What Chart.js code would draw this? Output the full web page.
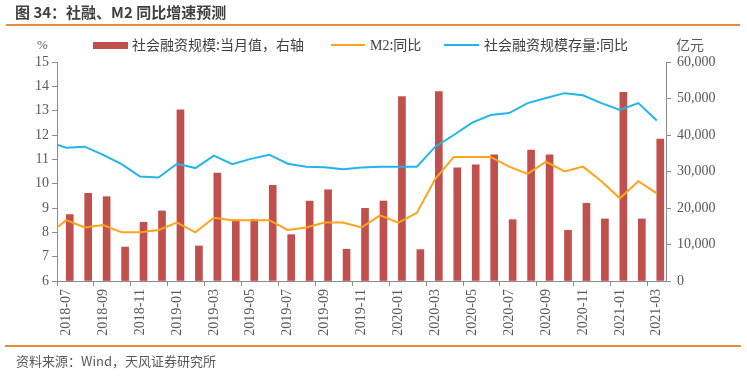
<!DOCTYPE html>
<html>
<head>
<meta charset="utf-8">
<script src="https://cdn.jsdelivr.net/npm/chart.js@4/dist/chart.umd.min.js"></script>
<style>
  html, body { margin: 0; padding: 0; background: #fff; }
  #wrap { position: relative; width: 747px; height: 377px; overflow: hidden; }
  #wrap canvas { position: absolute; left: 0; top: 0; }
  .txt { position: absolute; white-space: nowrap; font-family: "Noto Sans CJK SC", sans-serif; color: #595959; line-height: 1; }
  .rule { position: absolute; height: 2px; background: #EA8A3C; }
  .sw { position: absolute; }
</style>
</head>
<body>
<div id="wrap">
  <canvas id="chart"></canvas>
  <div class="txt" style="left:15px;top:4px;font-size:15px;font-weight:bold;color:#3f3f3f;">图 34：社融、M2 同比增速预测</div>
  <div class="rule" style="left:6px;top:24px;width:734px;"></div>
  <div class="txt" style="left:37px;top:38px;font-size:13px;font-family:'Liberation Serif',serif;">%</div>
  <div class="sw" style="left:93px;top:42px;width:35px;height:7px;background:#C0504D;"></div>
  <div class="txt" style="left:132px;top:37px;font-size:14px;color:#404040;">社会融资规模:当月值，右轴</div>
  <div class="sw" style="left:331px;top:44px;width:34px;height:2px;background:#FFA31A;"></div>
  <div class="txt" style="left:370px;top:37px;font-size:14px;color:#404040;"><span style="font-family:'Liberation Serif',serif;">M2</span>:同比</div>
  <div class="sw" style="left:444px;top:44px;width:35px;height:2px;background:#21B5EC;"></div>
  <div class="txt" style="left:484px;top:37px;font-size:14px;color:#404040;">社会融资规模存量:同比</div>
  <div class="txt" style="left:676px;top:37px;font-size:14px;">亿元</div>
  <div class="rule" style="left:5px;top:345px;width:736px;"></div>
  <div class="txt" style="left:16px;top:354px;font-size:13px;">资料来源：Wind，天风证券研究所</div>
</div>
<script>
const months = [
  "2018-07", "2018-08", "2018-09", "2018-10", "2018-11", "2018-12",
  "2019-01", "2019-02", "2019-03", "2019-04", "2019-05", "2019-06",
  "2019-07", "2019-08", "2019-09", "2019-10", "2019-11", "2019-12",
  "2020-01", "2020-02", "2020-03", "2020-04", "2020-05", "2020-06",
  "2020-07", "2020-08", "2020-09", "2020-10", "2020-11", "2020-12",
  "2021-01", "2021-02", "2021-03"
];

// 社会融资规模:当月值 (亿元, right axis)
const tsfMonthly = [
  18200, 24000, 23100, 9300, 16100, 19200,
  46900, 9600, 29600, 16700, 16900, 26200,
  12700, 21900, 25000, 8700, 19900, 21900,
  50500, 8600, 51900, 31000, 31800, 34600,
  16800, 35900, 34600, 13900, 21300, 17000,
  51700, 17000, 38900
];

// M2:同比 (%)
const m2Growth = [
  8.5, 8.2, 8.3, 8.0, 8.0, 8.1,
  8.4, 8.0, 8.6, 8.5, 8.5, 8.5,
  8.1, 8.2, 8.4, 8.4, 8.2, 8.7,
  8.4, 8.8, 10.2, 11.1, 11.1, 11.1,
  10.7, 10.4, 10.9, 10.5, 10.7, 10.1,
  9.4, 10.1, 9.6
];

// 社会融资规模存量:同比 (%)
const stockGrowth = [
  11.48, 11.52, 11.18, 10.80, 10.29, 10.25,
  10.82, 10.64, 11.15, 10.80, 11.02, 11.19,
  10.82, 10.70, 10.67, 10.59, 10.66, 10.70,
  10.70, 10.70, 11.52, 12.00, 12.51, 12.82,
  12.90, 13.31, 13.52, 13.72, 13.63, 13.31,
  13.03, 13.31, 12.60
];

// both lines begin at the left edge of the plot, half a month before 2018-07
const m2Lead = 8.2;
const stockLead = 11.6;

const leftTicks = [6, 7, 8, 9, 10, 11, 12, 13, 14, 15];
const rightTicks = [0, 10000, 20000, 30000, 40000, 50000, 60000];

function toPoints(lead, values) {
  return [{ x: -0.5, y: lead }].concat(values.map((v, i) => ({ x: i, y: v })));
}

const axisGray = "#8c8c8c";
const tickFont = { family: "'Liberation Serif', serif", size: 14 };

new Chart(document.getElementById("chart"), {
  data: {
    labels: months,
    datasets: [
      {
        type: "line",
        label: "M2:同比",
        data: toPoints(m2Lead, m2Growth),
        xAxisID: "xl",
        yAxisID: "y",
        borderColor: "#FFA31A",
        borderWidth: 2,
        pointRadius: 0,
        tension: 0,
        order: 0
      },
      {
        type: "line",
        label: "社会融资规模存量:同比",
        data: toPoints(stockLead, stockGrowth),
        xAxisID: "xl",
        yAxisID: "y",
        borderColor: "#21B5EC",
        borderWidth: 2,
        pointRadius: 0,
        tension: 0,
        order: 0
      },
      {
        type: "bar",
        label: "社会融资规模:当月值，右轴",
        data: tsfMonthly,
        xAxisID: "x",
        yAxisID: "y1",
        backgroundColor: "#C0504D",
        barThickness: 7,
        order: 2
      }
    ]
  },
  options: {
    responsive: true,
    maintainAspectRatio: false,
    animation: false,
    layout: { padding: { top: 62, left: 0, right: 0, bottom: 0 } },
    plugins: {
      legend: { display: false },
      tooltip: { enabled: false }
    },
    scales: {
      x: {
        type: "category",
        offset: true,
        border: { display: true, color: axisGray, width: 1 },
        grid: {
          offset: true,
          drawOnChartArea: false,
          drawTicks: true,
          tickLength: 5,
          color: ctx => (ctx.index % 2 === 0 ? axisGray : "rgba(0,0,0,0)")
        },
        ticks: {
          autoSkip: false,
          maxRotation: 90,
          minRotation: 90,
          padding: 3,
          color: "#595959",
          font: tickFont,
          callback: function (val, idx) {
            return idx % 2 === 0 ? this.getLabelForValue(val) : "";
          }
        },
        afterFit: scale => { scale.height = 96; }
      },
      xl: {
        type: "linear",
        display: false,
        min: -0.5,
        max: months.length - 0.5
      },
      y: {
        position: "left",
        min: leftTicks[0],
        max: leftTicks[leftTicks.length - 1],
        afterBuildTicks: scale => { scale.ticks = leftTicks.map(v => ({ value: v })); },
        border: { display: true, color: axisGray, width: 1 },
        grid: { drawOnChartArea: false, drawTicks: true, tickLength: 5, color: axisGray },
        ticks: { padding: 3, color: "#595959", font: tickFont },
        afterFit: scale => { scale.width = 57; }
      },
      y1: {
        position: "right",
        min: rightTicks[0],
        max: rightTicks[rightTicks.length - 1],
        afterBuildTicks: scale => { scale.ticks = rightTicks.map(v => ({ value: v })); },
        border: { display: true, color: axisGray, width: 1 },
        grid: { drawOnChartArea: false, drawTicks: true, tickLength: 5, color: axisGray },
        ticks: {
          padding: 6,
          color: "#595959",
          font: tickFont,
          callback: v => v.toLocaleString("en-US")
        },
        afterFit: scale => { scale.width = 81; }
      }
    }
  }
});
</script>
</body>
</html>
